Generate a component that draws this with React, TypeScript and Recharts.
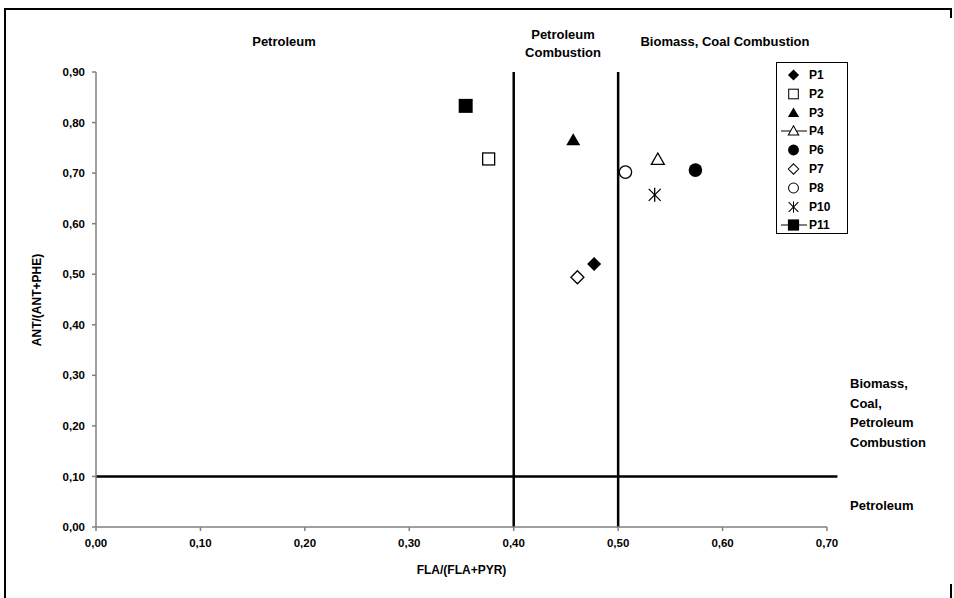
import React from 'react';
import { ScatterChart, Scatter, XAxis, YAxis, ReferenceLine } from 'recharts';

// FLA/(FLA+PYR) vs ANT/(ANT+PHE) diagnostic ratio cross-plot

const sampleNames = ['P1', 'P2', 'P3', 'P4', 'P6', 'P7', 'P8', 'P10', 'P11'];
const flaRatio = [0.477, 0.376, 0.457, 0.538, 0.574, 0.461, 0.507, 0.535, 0.354];
const antRatio = [0.52, 0.728, 0.765, 0.727, 0.706, 0.494, 0.702, 0.657, 0.833];

const xTicks = [0, 0.1, 0.2, 0.3, 0.4, 0.5, 0.6, 0.7];
const yTicks = [0, 0.1, 0.2, 0.3, 0.4, 0.5, 0.6, 0.7, 0.8, 0.9];

// source boundaries
const flaBounds = [0.4, 0.5];
const antBound = 0.1;

const FONT = '"Liberation Sans", Arial, sans-serif';

type Kind =
  | 'diamondFilled'
  | 'squareOpen'
  | 'triangleFilled'
  | 'triangleOpen'
  | 'circleFilled'
  | 'diamondOpen'
  | 'circleOpen'
  | 'star'
  | 'squareFilled';

const markerKinds: Record<string, Kind> = {
  P1: 'diamondFilled',
  P2: 'squareOpen',
  P3: 'triangleFilled',
  P4: 'triangleOpen',
  P6: 'circleFilled',
  P7: 'diamondOpen',
  P8: 'circleOpen',
  P10: 'star',
  P11: 'squareFilled',
};
const withLine = new Set(['P4', 'P11']);

function Marker({ kind, cx, cy }: { kind: Kind; cx: number; cy: number }) {
  switch (kind) {
    case 'diamondFilled':
      return <polygon points={`${cx},${cy - 7} ${cx + 7},${cy} ${cx},${cy + 7} ${cx - 7},${cy}`} fill="#000" />;
    case 'diamondOpen':
      return (
        <polygon
          points={`${cx},${cy - 6.5} ${cx + 6.5},${cy} ${cx},${cy + 6.5} ${cx - 6.5},${cy}`}
          fill="#fff"
          stroke="#000"
          strokeWidth={1.3}
        />
      );
    case 'squareOpen':
      return <rect x={cx - 6} y={cy - 6} width={12} height={12} fill="#fff" stroke="#000" strokeWidth={1.3} />;
    case 'squareFilled':
      return <rect x={cx - 7} y={cy - 7} width={14} height={14} fill="#000" />;
    case 'triangleFilled':
      return <polygon points={`${cx},${cy - 7} ${cx + 7},${cy + 5} ${cx - 7},${cy + 5}`} fill="#000" />;
    case 'triangleOpen':
      return (
        <polygon
          points={`${cx},${cy - 6.5} ${cx + 6.5},${cy + 5} ${cx - 6.5},${cy + 5}`}
          fill="#fff"
          stroke="#000"
          strokeWidth={1.3}
        />
      );
    case 'circleFilled':
      return <circle cx={cx} cy={cy} r={6.8} fill="#000" />;
    case 'circleOpen':
      return <circle cx={cx} cy={cy} r={6.2} fill="#fff" stroke="#000" strokeWidth={1.3} />;
    case 'star':
      return (
        <g stroke="#000" strokeWidth={1.3}>
          <line x1={cx} y1={cy - 7} x2={cx} y2={cy + 7} />
          <line x1={cx - 6} y1={cy - 6} x2={cx + 6} y2={cy + 6} />
          <line x1={cx + 6} y1={cy - 6} x2={cx - 6} y2={cy + 6} />
        </g>
      );
  }
  return null;
}

const fmt = (v: number) => v.toFixed(2).replace('.', ',');

const bold: React.CSSProperties = {
  position: 'absolute',
  fontFamily: FONT,
  fontWeight: 'bold',
  color: '#000',
  whiteSpace: 'nowrap',
  lineHeight: '18px',
};

function Legend() {
  return (
    <div
      style={{
        position: 'absolute',
        left: 776,
        top: 62,
        width: 70,
        height: 170,
        border: '1px solid #000',
        background: '#fff',
      }}
    >
      {sampleNames.map((name, i) => (
        <div key={name} style={{ position: 'absolute', left: 0, top: 3 + i * 18.8, height: 18, width: 70 }}>
          <svg width={32} height={18} style={{ position: 'absolute', left: 0, top: 0 }}>
            {withLine.has(name) && <line x1={4} y1={9} x2={30} y2={9} stroke="#000" strokeWidth={1} />}
            <g transform="translate(16.5,9) scale(0.8) translate(-16.5,-9)">
              <Marker kind={markerKinds[name]} cx={16.5} cy={9} />
            </g>
          </svg>
          <span style={{ ...bold, left: 32, top: 0, fontSize: 12 }}>{name}</span>
        </div>
      ))}
    </div>
  );
}

export default function App() {
  return (
    <div
      style={{
        position: 'absolute',
        left: 0,
        top: 0,
        width: 954,
        height: 598,
        background: '#fff',
        overflow: 'hidden',
      }}
    >
      {/* outer frame fragments */}
      <div style={{ position: 'absolute', left: 4, top: 8, width: 2, height: 590, background: '#000' }} />
      <div style={{ position: 'absolute', left: 4, top: 8, width: 948, height: 2, background: '#000' }} />
      <div style={{ position: 'absolute', left: 950, top: 8, width: 2, height: 10, background: '#000' }} />
      <div style={{ position: 'absolute', left: 950, top: 584, width: 2, height: 14, background: '#000' }} />

      <div style={{ position: 'absolute', left: 0, top: 0 }}>
        <ScatterChart width={954} height={598} margin={{ top: 72, right: 127, bottom: 21, left: 0 }}>
          <XAxis
            dataKey="x"
            type="number"
            domain={[0, 0.7]}
            ticks={xTicks}
            tickFormatter={fmt}
            height={50}
            allowDataOverflow
            axisLine={{ stroke: '#808080', strokeWidth: 1.5 }}
            tickLine={{ stroke: '#808080', strokeWidth: 1.5 }}
            tickSize={4}
            tickMargin={8}
            tick={{ fill: '#000', fontSize: 11.5, fontWeight: 'bold', fontFamily: FONT }}
            label={{
              value: 'FLA/(FLA+PYR)',
              position: 'insideBottom',
              offset: 3,
              style: { fill: '#000', fontSize: 12, fontWeight: 'bold', fontFamily: FONT },
            }}
          />
          <YAxis
            dataKey="y"
            type="number"
            domain={[0, 0.9]}
            ticks={yTicks}
            tickFormatter={fmt}
            width={96}
            allowDataOverflow
            axisLine={{ stroke: '#808080', strokeWidth: 1.5 }}
            tickLine={{ stroke: '#808080', strokeWidth: 1.5 }}
            tickSize={4}
            tickMargin={7}
            tick={{ fill: '#000', fontSize: 11.5, fontWeight: 'bold', fontFamily: FONT }}
          />
          {flaBounds.map((v) => (
            <ReferenceLine key={v} x={v} stroke="#000" strokeWidth={2.5} />
          ))}
          <ReferenceLine
            segment={[
              { x: 0, y: antBound },
              { x: 0.71, y: antBound },
            ]}
            ifOverflow="visible"
            stroke="#000"
            strokeWidth={2.5}
          />
          {sampleNames.map((name, i) => (
            <Scatter
              key={name}
              name={name}
              data={[{ x: flaRatio[i], y: antRatio[i] }]}
              isAnimationActive={false}
              shape={(p: any) => <Marker kind={markerKinds[name]} cx={p.cx} cy={p.cy} />}
            />
          ))}
        </ScatterChart>
      </div>

      {/* y axis title */}
      <div
        style={{
          ...bold,
          fontSize: 12,
          left: 37,
          top: 300,
          transform: 'translate(-50%, -50%) rotate(-90deg)',
        }}
      >
        ANT/(ANT+PHE)
      </div>

      {/* source region labels */}
      <div style={{ ...bold, fontSize: 13, left: 284, top: 42, transform: 'translate(-50%, -50%)' }}>Petroleum</div>
      <div
        style={{
          ...bold,
          fontSize: 13,
          left: 563,
          top: 44,
          transform: 'translate(-50%, -50%)',
          textAlign: 'center',
        }}
      >
        Petroleum
        <br />
        Combustion
      </div>
      <div style={{ ...bold, fontSize: 13, left: 725, top: 42, transform: 'translate(-50%, -50%)' }}>
        Biomass, Coal Combustion
      </div>
      <div style={{ ...bold, fontSize: 13, left: 850, top: 374, lineHeight: '19.5px' }}>
        Biomass,
        <br />
        Coal,
        <br />
        Petroleum
        <br />
        Combustion
      </div>
      <div style={{ ...bold, fontSize: 13, left: 850, top: 497 }}>Petroleum</div>

      <Legend />
    </div>
  );
}
